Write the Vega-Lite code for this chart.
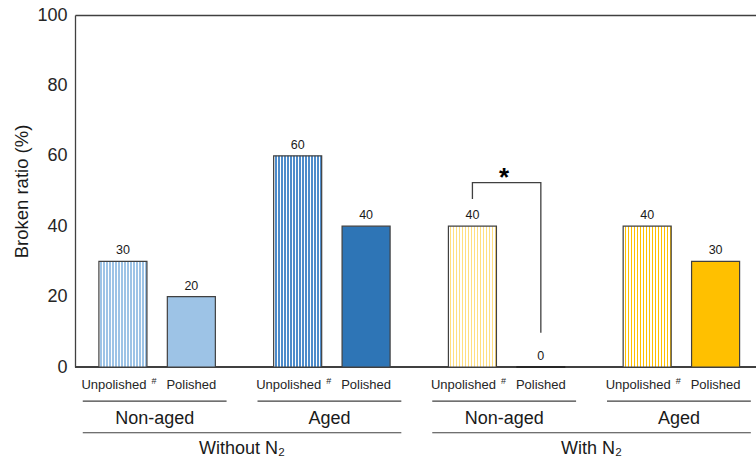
{
  "$schema": "https://vega.github.io/schema/vega-lite/v6.json",
  "padding": {"left": 12, "top": 6, "right": 0, "bottom": 0},
  "bounds": "flush",
  "spacing": 0,
  "config": {
    "font": "Liberation Sans",
    "view": {"stroke": null},
    "text": {"font": "Liberation Sans", "color": "#1a1a1a"}
  },
  "datasets": {
    "bars": [
      {"grp": "Without N2 / Non-aged", "n2": "Without N₂", "age": "Non-aged", "polish": "Unpolished", "ratio": 30},
      {"grp": "Without N2 / Non-aged", "n2": "Without N₂", "age": "Non-aged", "polish": "Polished", "ratio": 20},
      {"grp": "Without N2 / Aged", "n2": "Without N₂", "age": "Aged", "polish": "Unpolished", "ratio": 60},
      {"grp": "Without N2 / Aged", "n2": "Without N₂", "age": "Aged", "polish": "Polished", "ratio": 40},
      {"grp": "With N2 / Non-aged", "n2": "With N₂", "age": "Non-aged", "polish": "Unpolished", "ratio": 40},
      {"grp": "With N2 / Non-aged", "n2": "With N₂", "age": "Non-aged", "polish": "Polished", "ratio": 0},
      {"grp": "With N2 / Aged", "n2": "With N₂", "age": "Aged", "polish": "Unpolished", "ratio": 40},
      {"grp": "With N2 / Aged", "n2": "With N₂", "age": "Aged", "polish": "Polished", "ratio": 30}
    ],
    "n2spans": [
      {"first": "Without N2 / Non-aged", "last": "Without N2 / Aged", "n2": "Without N₂"},
      {"first": "With N2 / Non-aged", "last": "With N2 / Aged", "n2": "With N₂"}
    ],
    "bracket": [
      {"grp": "With N2 / Non-aged", "polish": "Unpolished", "ratio": 47.7, "step": 1},
      {"grp": "With N2 / Non-aged", "polish": "Unpolished", "ratio": 52.4, "step": 2},
      {"grp": "With N2 / Non-aged", "polish": "Polished", "ratio": 52.4, "step": 3},
      {"grp": "With N2 / Non-aged", "polish": "Polished", "ratio": 9.7, "step": 4}
    ]
  },
  "resolve": {"scale": {"x": "shared", "xOffset": "shared"}, "axis": {"x": "independent"}},
  "vconcat": [
    {
      "width": 681,
      "height": 352,
      "data": {"name": "bars"},
      "layer": [
        {
          "mark": {"type": "rule", "color": "#404040", "strokeWidth": 1.2},
          "encoding": {"y": {"datum": 0, "type": "quantitative"}}
        },
        {
          "mark": {"type": "bar", "stroke": "#404040", "strokeWidth": 1.2},
          "encoding": {
            "x": {
              "field": "grp", "type": "nominal",
              "scale": {
                "domain": ["Without N2 / Non-aged", "Without N2 / Aged", "With N2 / Non-aged", "With N2 / Aged"],
                "paddingInner": 0.177, "paddingOuter": 0.037, "align": 0.6
              },
              "axis": {"orient": "top", "labels": false, "ticks": false, "title": null, "grid": false, "domain": true, "domainColor": "#404040", "domainWidth": 1.3}
            },
            "xOffset": {
              "field": "polish", "type": "nominal",
              "scale": {"domain": ["Unpolished", "Polished"], "paddingInner": 0.298, "paddingOuter": 0.2, "align": 0.59}
            },
            "y": {
              "field": "ratio", "type": "quantitative",
              "scale": {"domain": [0, 100]},
              "axis": {
                "values": [0, 20, 40, 60, 80, 100],
                "title": "Broken ratio (%)",
                "titleFontSize": 18.5, "titleFontWeight": "normal", "titleColor": "#1a1a1a", "titlePadding": 5,
                "labelFontSize": 18, "labelColor": "#262626", "labelPadding": 8,
                "ticks": false, "domainColor": "#404040", "domainWidth": 1.3,
                "gridColor": "#d9d9d9", "gridWidth": 1
              }
            },
            "fill": {
              "condition": [
                {"test": "datum.grp === 'Without N2 / Non-aged' && datum.polish === 'Unpolished'",
                 "value": {"gradient": "linear", "x1": 0, "x2": 1, "y1": 0, "y2": 0, "stops": [{"offset":0,"color":"#ffffff"},{"offset":0.03125,"color":"#ffffff"},{"offset":0.03125,"color":"#9dc3e6"},{"offset":0.0625,"color":"#9dc3e6"},{"offset":0.0625,"color":"#ffffff"},{"offset":0.09375,"color":"#ffffff"},{"offset":0.09375,"color":"#9dc3e6"},{"offset":0.125,"color":"#9dc3e6"},{"offset":0.125,"color":"#ffffff"},{"offset":0.15625,"color":"#ffffff"},{"offset":0.15625,"color":"#9dc3e6"},{"offset":0.1875,"color":"#9dc3e6"},{"offset":0.1875,"color":"#ffffff"},{"offset":0.21875,"color":"#ffffff"},{"offset":0.21875,"color":"#9dc3e6"},{"offset":0.25,"color":"#9dc3e6"},{"offset":0.25,"color":"#ffffff"},{"offset":0.28125,"color":"#ffffff"},{"offset":0.28125,"color":"#9dc3e6"},{"offset":0.3125,"color":"#9dc3e6"},{"offset":0.3125,"color":"#ffffff"},{"offset":0.34375,"color":"#ffffff"},{"offset":0.34375,"color":"#9dc3e6"},{"offset":0.375,"color":"#9dc3e6"},{"offset":0.375,"color":"#ffffff"},{"offset":0.40625,"color":"#ffffff"},{"offset":0.40625,"color":"#9dc3e6"},{"offset":0.4375,"color":"#9dc3e6"},{"offset":0.4375,"color":"#ffffff"},{"offset":0.46875,"color":"#ffffff"},{"offset":0.46875,"color":"#9dc3e6"},{"offset":0.5,"color":"#9dc3e6"},{"offset":0.5,"color":"#ffffff"},{"offset":0.53125,"color":"#ffffff"},{"offset":0.53125,"color":"#9dc3e6"},{"offset":0.5625,"color":"#9dc3e6"},{"offset":0.5625,"color":"#ffffff"},{"offset":0.59375,"color":"#ffffff"},{"offset":0.59375,"color":"#9dc3e6"},{"offset":0.625,"color":"#9dc3e6"},{"offset":0.625,"color":"#ffffff"},{"offset":0.65625,"color":"#ffffff"},{"offset":0.65625,"color":"#9dc3e6"},{"offset":0.6875,"color":"#9dc3e6"},{"offset":0.6875,"color":"#ffffff"},{"offset":0.71875,"color":"#ffffff"},{"offset":0.71875,"color":"#9dc3e6"},{"offset":0.75,"color":"#9dc3e6"},{"offset":0.75,"color":"#ffffff"},{"offset":0.78125,"color":"#ffffff"},{"offset":0.78125,"color":"#9dc3e6"},{"offset":0.8125,"color":"#9dc3e6"},{"offset":0.8125,"color":"#ffffff"},{"offset":0.84375,"color":"#ffffff"},{"offset":0.84375,"color":"#9dc3e6"},{"offset":0.875,"color":"#9dc3e6"},{"offset":0.875,"color":"#ffffff"},{"offset":0.90625,"color":"#ffffff"},{"offset":0.90625,"color":"#9dc3e6"},{"offset":0.9375,"color":"#9dc3e6"},{"offset":0.9375,"color":"#ffffff"},{"offset":0.96875,"color":"#ffffff"},{"offset":0.96875,"color":"#9dc3e6"},{"offset":1,"color":"#9dc3e6"}]}},
                {"test": "datum.grp === 'Without N2 / Aged' && datum.polish === 'Unpolished'",
                 "value": {"gradient": "linear", "x1": 0, "x2": 1, "y1": 0, "y2": 0, "stops": [{"offset":0,"color":"#ffffff"},{"offset":0.03125,"color":"#ffffff"},{"offset":0.03125,"color":"#4e8ccb"},{"offset":0.0625,"color":"#4e8ccb"},{"offset":0.0625,"color":"#ffffff"},{"offset":0.09375,"color":"#ffffff"},{"offset":0.09375,"color":"#4e8ccb"},{"offset":0.125,"color":"#4e8ccb"},{"offset":0.125,"color":"#ffffff"},{"offset":0.15625,"color":"#ffffff"},{"offset":0.15625,"color":"#4e8ccb"},{"offset":0.1875,"color":"#4e8ccb"},{"offset":0.1875,"color":"#ffffff"},{"offset":0.21875,"color":"#ffffff"},{"offset":0.21875,"color":"#4e8ccb"},{"offset":0.25,"color":"#4e8ccb"},{"offset":0.25,"color":"#ffffff"},{"offset":0.28125,"color":"#ffffff"},{"offset":0.28125,"color":"#4e8ccb"},{"offset":0.3125,"color":"#4e8ccb"},{"offset":0.3125,"color":"#ffffff"},{"offset":0.34375,"color":"#ffffff"},{"offset":0.34375,"color":"#4e8ccb"},{"offset":0.375,"color":"#4e8ccb"},{"offset":0.375,"color":"#ffffff"},{"offset":0.40625,"color":"#ffffff"},{"offset":0.40625,"color":"#4e8ccb"},{"offset":0.4375,"color":"#4e8ccb"},{"offset":0.4375,"color":"#ffffff"},{"offset":0.46875,"color":"#ffffff"},{"offset":0.46875,"color":"#4e8ccb"},{"offset":0.5,"color":"#4e8ccb"},{"offset":0.5,"color":"#ffffff"},{"offset":0.53125,"color":"#ffffff"},{"offset":0.53125,"color":"#4e8ccb"},{"offset":0.5625,"color":"#4e8ccb"},{"offset":0.5625,"color":"#ffffff"},{"offset":0.59375,"color":"#ffffff"},{"offset":0.59375,"color":"#4e8ccb"},{"offset":0.625,"color":"#4e8ccb"},{"offset":0.625,"color":"#ffffff"},{"offset":0.65625,"color":"#ffffff"},{"offset":0.65625,"color":"#4e8ccb"},{"offset":0.6875,"color":"#4e8ccb"},{"offset":0.6875,"color":"#ffffff"},{"offset":0.71875,"color":"#ffffff"},{"offset":0.71875,"color":"#4e8ccb"},{"offset":0.75,"color":"#4e8ccb"},{"offset":0.75,"color":"#ffffff"},{"offset":0.78125,"color":"#ffffff"},{"offset":0.78125,"color":"#4e8ccb"},{"offset":0.8125,"color":"#4e8ccb"},{"offset":0.8125,"color":"#ffffff"},{"offset":0.84375,"color":"#ffffff"},{"offset":0.84375,"color":"#4e8ccb"},{"offset":0.875,"color":"#4e8ccb"},{"offset":0.875,"color":"#ffffff"},{"offset":0.90625,"color":"#ffffff"},{"offset":0.90625,"color":"#4e8ccb"},{"offset":0.9375,"color":"#4e8ccb"},{"offset":0.9375,"color":"#ffffff"},{"offset":0.96875,"color":"#ffffff"},{"offset":0.96875,"color":"#4e8ccb"},{"offset":1,"color":"#4e8ccb"}]}},
                {"test": "datum.grp === 'With N2 / Non-aged' && datum.polish === 'Unpolished'",
                 "value": {"gradient": "linear", "x1": 0, "x2": 1, "y1": 0, "y2": 0, "stops": [{"offset":0,"color":"#ffffff"},{"offset":0.03125,"color":"#ffffff"},{"offset":0.03125,"color":"#ffdf80"},{"offset":0.0625,"color":"#ffdf80"},{"offset":0.0625,"color":"#ffffff"},{"offset":0.09375,"color":"#ffffff"},{"offset":0.09375,"color":"#ffdf80"},{"offset":0.125,"color":"#ffdf80"},{"offset":0.125,"color":"#ffffff"},{"offset":0.15625,"color":"#ffffff"},{"offset":0.15625,"color":"#ffdf80"},{"offset":0.1875,"color":"#ffdf80"},{"offset":0.1875,"color":"#ffffff"},{"offset":0.21875,"color":"#ffffff"},{"offset":0.21875,"color":"#ffdf80"},{"offset":0.25,"color":"#ffdf80"},{"offset":0.25,"color":"#ffffff"},{"offset":0.28125,"color":"#ffffff"},{"offset":0.28125,"color":"#ffdf80"},{"offset":0.3125,"color":"#ffdf80"},{"offset":0.3125,"color":"#ffffff"},{"offset":0.34375,"color":"#ffffff"},{"offset":0.34375,"color":"#ffdf80"},{"offset":0.375,"color":"#ffdf80"},{"offset":0.375,"color":"#ffffff"},{"offset":0.40625,"color":"#ffffff"},{"offset":0.40625,"color":"#ffdf80"},{"offset":0.4375,"color":"#ffdf80"},{"offset":0.4375,"color":"#ffffff"},{"offset":0.46875,"color":"#ffffff"},{"offset":0.46875,"color":"#ffdf80"},{"offset":0.5,"color":"#ffdf80"},{"offset":0.5,"color":"#ffffff"},{"offset":0.53125,"color":"#ffffff"},{"offset":0.53125,"color":"#ffdf80"},{"offset":0.5625,"color":"#ffdf80"},{"offset":0.5625,"color":"#ffffff"},{"offset":0.59375,"color":"#ffffff"},{"offset":0.59375,"color":"#ffdf80"},{"offset":0.625,"color":"#ffdf80"},{"offset":0.625,"color":"#ffffff"},{"offset":0.65625,"color":"#ffffff"},{"offset":0.65625,"color":"#ffdf80"},{"offset":0.6875,"color":"#ffdf80"},{"offset":0.6875,"color":"#ffffff"},{"offset":0.71875,"color":"#ffffff"},{"offset":0.71875,"color":"#ffdf80"},{"offset":0.75,"color":"#ffdf80"},{"offset":0.75,"color":"#ffffff"},{"offset":0.78125,"color":"#ffffff"},{"offset":0.78125,"color":"#ffdf80"},{"offset":0.8125,"color":"#ffdf80"},{"offset":0.8125,"color":"#ffffff"},{"offset":0.84375,"color":"#ffffff"},{"offset":0.84375,"color":"#ffdf80"},{"offset":0.875,"color":"#ffdf80"},{"offset":0.875,"color":"#ffffff"},{"offset":0.90625,"color":"#ffffff"},{"offset":0.90625,"color":"#ffdf80"},{"offset":0.9375,"color":"#ffdf80"},{"offset":0.9375,"color":"#ffffff"},{"offset":0.96875,"color":"#ffffff"},{"offset":0.96875,"color":"#ffdf80"},{"offset":1,"color":"#ffdf80"}]}},
                {"test": "datum.grp === 'With N2 / Aged' && datum.polish === 'Unpolished'",
                 "value": {"gradient": "linear", "x1": 0, "x2": 1, "y1": 0, "y2": 0, "stops": [{"offset":0,"color":"#ffffff"},{"offset":0.03125,"color":"#ffffff"},{"offset":0.03125,"color":"#ffc000"},{"offset":0.0625,"color":"#ffc000"},{"offset":0.0625,"color":"#ffffff"},{"offset":0.09375,"color":"#ffffff"},{"offset":0.09375,"color":"#ffc000"},{"offset":0.125,"color":"#ffc000"},{"offset":0.125,"color":"#ffffff"},{"offset":0.15625,"color":"#ffffff"},{"offset":0.15625,"color":"#ffc000"},{"offset":0.1875,"color":"#ffc000"},{"offset":0.1875,"color":"#ffffff"},{"offset":0.21875,"color":"#ffffff"},{"offset":0.21875,"color":"#ffc000"},{"offset":0.25,"color":"#ffc000"},{"offset":0.25,"color":"#ffffff"},{"offset":0.28125,"color":"#ffffff"},{"offset":0.28125,"color":"#ffc000"},{"offset":0.3125,"color":"#ffc000"},{"offset":0.3125,"color":"#ffffff"},{"offset":0.34375,"color":"#ffffff"},{"offset":0.34375,"color":"#ffc000"},{"offset":0.375,"color":"#ffc000"},{"offset":0.375,"color":"#ffffff"},{"offset":0.40625,"color":"#ffffff"},{"offset":0.40625,"color":"#ffc000"},{"offset":0.4375,"color":"#ffc000"},{"offset":0.4375,"color":"#ffffff"},{"offset":0.46875,"color":"#ffffff"},{"offset":0.46875,"color":"#ffc000"},{"offset":0.5,"color":"#ffc000"},{"offset":0.5,"color":"#ffffff"},{"offset":0.53125,"color":"#ffffff"},{"offset":0.53125,"color":"#ffc000"},{"offset":0.5625,"color":"#ffc000"},{"offset":0.5625,"color":"#ffffff"},{"offset":0.59375,"color":"#ffffff"},{"offset":0.59375,"color":"#ffc000"},{"offset":0.625,"color":"#ffc000"},{"offset":0.625,"color":"#ffffff"},{"offset":0.65625,"color":"#ffffff"},{"offset":0.65625,"color":"#ffc000"},{"offset":0.6875,"color":"#ffc000"},{"offset":0.6875,"color":"#ffffff"},{"offset":0.71875,"color":"#ffffff"},{"offset":0.71875,"color":"#ffc000"},{"offset":0.75,"color":"#ffc000"},{"offset":0.75,"color":"#ffffff"},{"offset":0.78125,"color":"#ffffff"},{"offset":0.78125,"color":"#ffc000"},{"offset":0.8125,"color":"#ffc000"},{"offset":0.8125,"color":"#ffffff"},{"offset":0.84375,"color":"#ffffff"},{"offset":0.84375,"color":"#ffc000"},{"offset":0.875,"color":"#ffc000"},{"offset":0.875,"color":"#ffffff"},{"offset":0.90625,"color":"#ffffff"},{"offset":0.90625,"color":"#ffc000"},{"offset":0.9375,"color":"#ffc000"},{"offset":0.9375,"color":"#ffffff"},{"offset":0.96875,"color":"#ffffff"},{"offset":0.96875,"color":"#ffc000"},{"offset":1,"color":"#ffc000"}]}}
              ],
              "field": "grp", "type": "nominal",
              "scale": {
                "domain": ["Without N2 / Non-aged", "Without N2 / Aged", "With N2 / Non-aged", "With N2 / Aged"],
                "range": ["#9dc3e6", "#2e75b6", "#ffe699", "#ffc000"]
              },
              "legend": null
            }
          }
        },
        {
          "transform": [{"filter": "datum.ratio === 0"}],
          "mark": {"type": "tick", "orient": "horizontal", "size": 49, "thickness": 2.2, "color": "#262626", "opacity": 1},
          "encoding": {
            "x": {"field": "grp", "type": "nominal"},
            "xOffset": {"field": "polish", "type": "nominal"},
            "y": {"field": "ratio", "type": "quantitative"}
          }
        },
        {
          "mark": {"type": "text", "fontSize": 12.5, "baseline": "alphabetic", "dy": -7},
          "encoding": {
            "x": {"field": "grp", "type": "nominal"},
            "xOffset": {"field": "polish", "type": "nominal"},
            "y": {"field": "ratio", "type": "quantitative"},
            "text": {"field": "ratio", "type": "quantitative"}
          }
        },
        {
          "data": {"name": "bracket"},
          "mark": {"type": "line", "color": "#404040", "strokeWidth": 1.3, "interpolate": "linear"},
          "encoding": {
            "x": {"field": "grp", "type": "nominal"},
            "xOffset": {"field": "polish", "type": "nominal"},
            "y": {"field": "ratio", "type": "quantitative"},
            "order": {"field": "step", "type": "quantitative"}
          }
        },
        {
          "data": {"values": [{"grp": "With N2 / Non-aged", "mark": "*"}]},
          "mark": {"type": "text", "fontSize": 26, "fontWeight": "bold", "baseline": "alphabetic", "color": "#000000"},
          "encoding": {
            "x": {"field": "grp", "type": "nominal"},
            "y": {"datum": 51.3, "type": "quantitative"},
            "text": {"field": "mark"}
          }
        }
      ]
    },
    {
      "width": 681,
      "height": 95,
      "data": {"name": "bars"},
      "layer": [
        {
          "transform": [{"filter": "datum.polish === 'Unpolished'"}],
          "mark": {"type": "text", "fontSize": 13, "baseline": "middle", "dx": -9, "color": "#262626"},
          "encoding": {
            "x": {"field": "grp", "type": "nominal", "axis": null},
            "xOffset": {"field": "polish", "type": "nominal"},
            "y": {
              "datum": "sub", "type": "nominal",
              "scale": {"type": "point", "domain": ["sub", "line1", "age", "line2", "n2"], "padding": 1.065, "align": 0.576},
              "axis": null
            },
            "text": {"field": "polish"}
          }
        },
        {
          "transform": [{"filter": "datum.polish === 'Unpolished'"}],
          "mark": {"type": "text", "fontSize": 9, "baseline": "middle", "dx": 31, "dy": -4, "color": "#262626"},
          "encoding": {
            "x": {"field": "grp", "type": "nominal", "axis": null},
            "xOffset": {"field": "polish", "type": "nominal"},
            "y": {"datum": "sub", "type": "nominal", "axis": null},
            "text": {"value": "#"}
          }
        },
        {
          "transform": [{"filter": "datum.polish === 'Polished'"}],
          "mark": {"type": "text", "fontSize": 13, "baseline": "middle", "color": "#262626"},
          "encoding": {
            "x": {"field": "grp", "type": "nominal", "axis": null},
            "xOffset": {"field": "polish", "type": "nominal"},
            "y": {"datum": "sub", "type": "nominal", "axis": null},
            "text": {"field": "polish"}
          }
        },
        {
          "transform": [{"filter": "datum.polish === 'Polished'"}],
          "mark": {"type": "rule", "color": "#404040", "strokeWidth": 1.2},
          "encoding": {
            "x": {"field": "grp", "type": "nominal", "bandPosition": 0, "axis": null},
            "x2": {"field": "grp", "bandPosition": 1},
            "y": {"datum": "line1", "type": "nominal", "axis": null}
          }
        },
        {
          "transform": [{"filter": "datum.polish === 'Polished'"}],
          "mark": {"type": "text", "fontSize": 18, "baseline": "middle", "dy": 2, "color": "#1a1a1a"},
          "encoding": {
            "x": {"field": "grp", "type": "nominal", "axis": null},
            "y": {"datum": "age", "type": "nominal", "axis": null},
            "text": {"field": "age"}
          }
        },
        {
          "data": {"name": "n2spans"},
          "mark": {"type": "rule", "color": "#404040", "strokeWidth": 1.2},
          "encoding": {
            "x": {"field": "first", "type": "nominal", "bandPosition": 0, "axis": null},
            "x2": {"field": "last", "bandPosition": 1},
            "y": {"datum": "line2", "type": "nominal", "axis": null}
          }
        },
        {
          "data": {"name": "n2spans"},
          "mark": {"type": "text", "fontSize": 18, "baseline": "middle", "dx": 15.5, "color": "#1a1a1a"},
          "encoding": {
            "x": {"field": "first", "type": "nominal", "bandPosition": 1, "axis": null},
            "y": {"datum": "n2", "type": "nominal", "axis": null},
            "text": {"field": "n2"}
          }
        }
      ]
    }
  ]
}
